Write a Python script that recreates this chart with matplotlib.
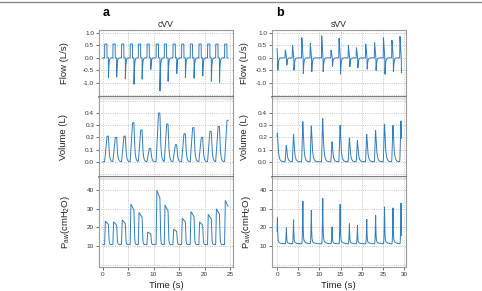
import numpy as np
import matplotlib
matplotlib.use('Agg')
import matplotlib.pyplot as plt
from matplotlib.patches import Rectangle

plt.rcParams['font.family'] = ['Liberation Sans', 'DejaVu Sans']
plt.rcParams['mathtext.fontset'] = 'custom'
plt.rcParams['mathtext.rm'] = 'Liberation Sans'
plt.rcParams['mathtext.it'] = 'Liberation Sans:italic'

# ---- panel a (cVV): one value per breath ----
cvv_onset = [0.38, 2.0, 3.7, 5.4, 7.0, 8.7, 10.5, 12.1, 13.8, 15.5, 17.2, 18.9, 20.6, 22.2, 23.95]
cvv_insp_flow = [0.55] * 15
cvv_exp_flow = [-0.78, -0.76, -0.84, -1.05, -0.85, -0.46, -1.32, -0.93, -0.63, -0.78,
                -0.81, -0.72, -0.93, -0.98, -0.9]
cvv_volume = [0.21, 0.20, 0.21, 0.32, 0.26, 0.11, 0.40, 0.31, 0.14, 0.23, 0.28, 0.20, 0.25, 0.29, 0.34]
cvv_paw = [23.4, 23.0, 24.0, 32.5, 28.0, 17.5, 40.0, 32.0, 19.0, 25.0, 28.5, 23.0, 27.0, 30.0, 34.5]
cvv_peep = 10.8
cvv_end = 24.65

# ---- panel b (sVV): time of each pressure peak and per-breath values ----
svv_peak_time = [0.08, 2.2, 3.9, 6.1, 8.1, 10.8, 13.0, 14.9, 17.1, 19.0, 21.2, 23.3, 25.4, 27.4, 29.3]
svv_insp_flow = [0.85, 0.31, 0.51, 0.80, 0.57, 0.88, 0.30, 0.78, 0.50, 0.40, 0.55, 0.60, 0.80, 0.70, 0.85]
svv_exp_flow = [-0.49, -0.29, -0.49, -0.62, -0.55, -0.55, -0.35, -0.65, -0.35, -0.40,
                -0.45, -0.50, -0.65, -0.55, -0.60]
svv_volume = [0.235, 0.135, 0.226, 0.33, 0.295, 0.355, 0.165, 0.30, 0.197, 0.175,
              0.225, 0.257, 0.31, 0.30, 0.336]
svv_paw = [25.9, 20.2, 24.7, 35.2, 30.0, 36.8, 20.7, 33.4, 22.5, 21.6, 25.0, 27.2, 32.0, 31.4, 34.1]
svv_peep = 11.2
svv_end = 29.45

LINE = '#2f7cbf'
TI, HOLD = 0.45, 0.3


def smooth(y, n):
    k = np.ones(n) / n
    pad = np.pad(y, n, mode='edge')
    return np.convolve(pad, k, mode='same')[n:-n]


def cvv_traces(t):
    flow = np.zeros_like(t)
    vol = np.zeros_like(t)
    paw = np.full_like(t, cvv_peep)
    for t0, fi, fe, v, p in zip(cvv_onset, cvv_insp_flow, cvv_exp_flow, cvv_volume, cvv_paw):
        s = t - t0
        ins = (s >= 0) & (s < TI)
        hold = (s >= TI) & (s < TI + HOLD)
        ex = s >= TI + HOLD
        se = s[ex] - TI - HOLD
        flow[ins] += fi
        flow[ex] += fe * np.exp(-se / 0.1)
        vol[ins] += v * s[ins] / TI
        vol[hold] += v
        vol[ex] += v * np.exp(-se / 0.16)
        dp = p - cvv_peep
        on = (s >= 0) & (s < TI + HOLD)
        so = s[on]
        paw[on] += dp * np.minimum(so / 0.12, 1) * (1 - 0.15 * np.maximum(so - 0.12, 0) / (TI + HOLD - 0.12))
        paw[ex] += dp * 0.85 * np.exp(-se / 0.08)
    return flow, smooth(vol, 9), smooth(paw, 5)


def svv_traces(t):
    flow = np.zeros_like(t)
    vol = np.zeros_like(t)
    paw = np.full_like(t, svv_peep)
    for tp, fi, fe, v, p in zip(svv_peak_time, svv_insp_flow, svv_exp_flow, svv_volume, svv_paw):
        s = t - tp
        up = (s >= -0.33) & (s < -0.25)
        down = (s >= -0.25) & (s < 0.05)
        drop = (s >= 0.05) & (s < 0.1)
        rec = s >= 0.1
        flow[up] += fi * (s[up] + 0.33) / 0.08
        flow[down] += fi * (0.05 - s[down]) / 0.3
        flow[drop] += fe * (s[drop] - 0.05) / 0.05
        flow[rec] += fe * np.exp(-(s[rec] - 0.1) / 0.14)
        rise = (s >= -0.33) & (s < 0)
        dec = s >= 0
        vol[rise] += v * (0.5 - 0.5 * np.cos(np.pi * (s[rise] + 0.33) / 0.33))
        vol[dec] += v * np.exp(-s[dec] / 0.24)
        dp = p - svv_peep
        prise = (s >= -0.25) & (s < 0)
        paw[prise] += dp * ((s[prise] + 0.25) / 0.25) ** 2
        paw[dec] += dp * (0.85 * np.exp(-s[dec] / 0.07) + 0.1 * np.exp(-s[dec] / 0.5))
    return flow, smooth(vol, 3), paw


W, H = 482, 291
fig = plt.figure(figsize=(W / 100, H / 100), dpi=100)

rows = [(30, 97), (97, 177), (177, 267)]
cols = {'a': (99, 233), 'b': (272, 405.7)}
ylims = [(-1.56, 1.11), (-0.125, 0.531), (-1.2, 47)]
yticks = [[-1.0, -0.5, 0.0, 0.5, 1.0], [0.0, 0.1, 0.2, 0.3, 0.4], [10, 20, 30, 40]]
yextra = [[-1.5], [-0.1, 0.5], [0]]
ylabels = ['Flow (L/s)', 'Volume (L)', r'P$_{\mathrm{aw}}$(cmH$_2$O)']
ylabpos = [-0.225, -0.23, -0.2]

t_a = np.arange(0, cvv_end, 0.01)
t_b = np.arange(0, svv_end, 0.01)
traces = {'a': (t_a, cvv_traces(t_a), (-0.73, 25.6), [0, 5, 10, 15, 20, 25], 'cVV'),
          'b': (t_b, svv_traces(t_b), (-1.2, 30.4), [0, 5, 10, 15, 20, 25, 30], 'sVV')}

for key, (x0, x1) in cols.items():
    t, series, xlim, xt, title = traces[key]
    for i, (top, bot) in enumerate(rows):
        ax = fig.add_axes([x0 / W, 1 - bot / H, (x1 - x0) / W, (bot - top) / H])
        ax.plot(t, series[i], color=LINE, lw=0.7)
        ax.set_xlim(*xlim)
        ax.set_ylim(*ylims[i])
        ax.set_xticks(xt)
        ax.set_yticks(yticks[i])
        ax.set_yticks(yextra[i], minor=True)
        if i < 2:
            ax.set_yticklabels(['%.1f' % v for v in yticks[i]])
        ax.grid(True, which='both', linestyle=':', color='#b5b5b5', lw=0.6)
        ax.tick_params(which='minor', length=0)
        ax.tick_params(labelsize=4.6, length=2, width=0.5, pad=1.5, colors='#333333')
        for sp in ax.spines.values():
            sp.set_color('#9a9a9a')
            sp.set_linewidth(0.8)
        if i < 2:
            ax.spines['bottom'].set_color('#5a5a5a')
            ax.spines['bottom'].set_linewidth(1.1)
            ax.tick_params(axis='x', bottom=False, labelbottom=False)
        if i > 0:
            ax.spines['top'].set_visible(False)
            ax.add_patch(Rectangle((0, 1 - 3 / (bot - top)), 1, 3 / (bot - top),
                                   transform=ax.transAxes, color='#e6e6e6', lw=0, zorder=0))
        lp = ylabpos[i] if key == 'a' else ylabpos[i] + 0.055
        ax.set_ylabel(ylabels[i], fontsize=6.8, color='#222222')
        ax.yaxis.set_label_coords(lp, 0.5)
        if i == 0:
            ax.set_title(title, fontsize=6.2, pad=2.5, color='#222222')
        if i == 2:
            ax.set_xlabel('Time (s)', fontsize=6.8, color='#222222', labelpad=3)
    fig.text((x0 + 4) / W, 1 - 13 / H, key, fontsize=9, fontweight='bold', va='center', ha='left')

fig.add_artist(plt.Line2D([0, 1], [1 - 1.5 / H, 1 - 1.5 / H], color='#8a8a8a', lw=1))

fig.savefig('out.png', dpi=100)
